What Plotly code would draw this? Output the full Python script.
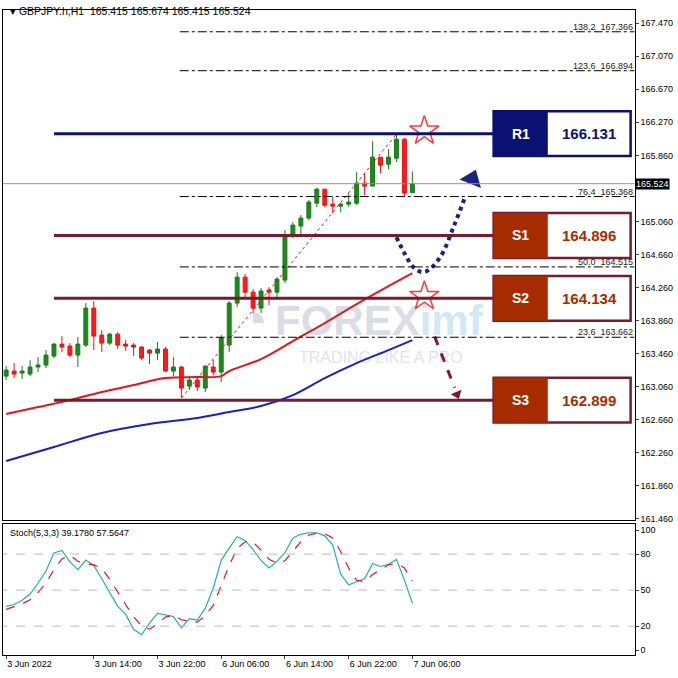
import plotly.graph_objects as go

# ---------------- data ----------------
bar_index = list(range(52))
opens  = [163.191,163.252,163.228,163.216,163.301,163.325,163.434,163.579,163.555,163.446,
          163.567,164.016,163.688,163.591,163.700,163.579,163.567,163.543,163.507,163.470,
          163.519,163.252,163.301,163.070,163.143,163.046,163.301,163.240,163.567,164.076,
          164.391,164.209,164.016,164.234,164.209,164.355,164.913,165.010,165.107,165.288,
          165.458,165.276,165.252,165.276,165.288,165.531,165.495,165.846,165.761,165.834,
          166.064,165.415]
highs  = [163.313,163.349,163.313,163.385,163.422,163.507,163.591,163.676,163.591,163.664,
          164.076,164.101,163.749,163.713,163.725,163.628,163.591,163.555,163.519,163.604,
          163.543,163.422,163.313,163.167,163.179,163.313,163.385,163.688,164.101,164.452,
          164.428,164.246,164.258,164.270,164.391,164.961,165.058,165.143,165.325,165.470,
          165.458,165.361,165.288,165.410,165.664,165.652,166.040,165.846,165.943,166.125,
          166.076,165.674]
lows   = [163.143,163.167,163.155,163.191,163.240,163.289,163.410,163.482,163.422,163.301,
          163.543,163.507,163.482,163.567,163.519,163.495,163.434,163.385,163.337,163.385,
          163.240,163.191,162.925,163.022,163.010,162.998,163.204,163.119,163.482,164.028,
          164.149,163.955,163.955,164.052,164.113,164.319,164.864,164.876,165.082,165.240,
          165.240,165.167,165.179,165.240,165.264,165.385,165.495,165.652,165.700,165.785,
          165.361,165.415]
closes = [163.264,163.216,163.252,163.301,163.325,163.446,163.579,163.543,163.446,163.579,
          164.016,163.676,163.591,163.700,163.567,163.555,163.543,163.410,163.470,163.519,
          163.252,163.301,163.046,163.143,163.058,163.313,163.240,163.652,164.076,164.391,
          164.209,164.016,164.222,164.209,164.367,164.876,165.022,165.107,165.301,165.458,
          165.264,165.252,165.276,165.301,165.531,165.495,165.846,165.749,165.846,166.064,
          165.410,165.524]

ma_red_x = [0,4,8,12,16,20,24,27,28,32,36,40,44,48,51]
ma_red_y = [162.731,162.816,162.900,162.998,163.082,163.167,163.179,163.191,163.252,
            163.398,163.616,163.834,164.064,164.282,164.440]
ma_blue_x = [0,6,12,18,24,28,32,36,40,44,48,51]
ma_blue_y = [162.161,162.331,162.501,162.610,162.683,162.755,162.828,162.961,163.167,
             163.349,163.507,163.628]

trend_x = [22, 49]
trend_y = [162.925, 166.125]

stoch_k = [36.5,38,41.6,46.7,55.7,65.9,81,83,73.5,67,75,70.5,59.5,47.5,36.5,30,17.4,12.8,
           22.5,30.6,29.4,28,18.6,26.3,25,35,51.8,74.8,85,94.5,91.4,83.7,74.8,68.4,74,81.2,
           93.4,96.5,97.8,97.8,95.2,87.6,63.3,54.4,57,59.5,72.2,69.7,71.5,75.6,58.2,39.1]
stoch_d = [34,36,38.5,42,48,56,67,76,79,74,72,71,68,59,48,38,28,20,17.5,22,27.5,29.3,25.3,
           24.3,23.3,28.8,37.3,53.9,70.5,84.8,90.3,89.9,83.3,75.6,72.4,74.5,82.9,90.4,95.9,
           97.4,96.9,93.5,82,68.4,58.2,57,63,67.1,71.1,72.3,68.4,57.6]

fib_levels = [167.366, 166.894, 165.368, 164.515, 163.662]
fib_names  = ["138.2", "123.6", "76.4", "50.0", "23.6"]

sr_names  = ["R1", "S1", "S2", "S3"]
sr_levels = [166.131, 164.896, 164.134, 162.899]

current_price = 165.524
price_ticks = [167.470,167.070,166.670,166.270,165.860,165.060,164.660,164.260,
               163.860,163.460,163.060,162.660,162.260,161.860,161.460]
time_tickvals = [0, 11, 19, 27, 35, 43, 51]
time_ticktext = ["3 Jun 2022","3 Jun 14:00","3 Jun 22:00","6 Jun 06:00",
                 "6 Jun 14:00","6 Jun 22:00","7 Jun 06:00"]

# ---------------- figure ----------------
fig = go.Figure()
FONT = "Liberation Sans"
NAVY = "#0a1172"
MAROON = "#7b1a2c"
BRICK = "#a62c00"

fig.add_trace(go.Candlestick(
    x=bar_index, open=opens, high=highs, low=lows, close=closes,
    increasing=dict(line=dict(color="#1a7a1a", width=1), fillcolor="#1a8c1a"),
    decreasing=dict(line=dict(color="#ee1111", width=1), fillcolor="#ff1a1a"),
    whiskerwidth=0, showlegend=False, xaxis="x", yaxis="y"))

fig.add_trace(go.Scatter(x=ma_red_x, y=ma_red_y, mode="lines", line=dict(color="#e8141c", width=2),
                         line_shape="spline", showlegend=False))
fig.add_trace(go.Scatter(x=ma_blue_x, y=ma_blue_y, mode="lines", line=dict(color="#1520c8", width=2),
                         line_shape="spline", showlegend=False))
fig.add_trace(go.Scatter(x=trend_x, y=trend_y, mode="lines",
                         line=dict(color="#e8141c", width=1, dash="dot"), showlegend=False))

shapes = []
annotations = []
XR = 78.9
for lv, nm in zip(fib_levels, fib_names):
    shapes.append(dict(type="line", x0=21.8, x1=XR, y0=lv, y1=lv, xref="x", yref="y",
                       line=dict(color="black", width=1, dash="dashdot")))
    annotations.append(dict(x=XR, y=lv, xref="x", yref="y", xanchor="right", yanchor="bottom",
                            text=f"{nm}  {lv:.3f}", showarrow=False, yshift=-2,
                            font=dict(family=FONT, size=9, color="#222")))
shapes.append(dict(type="line", x0=-1, x1=XR, y0=current_price, y1=current_price, xref="x", yref="y",
                   line=dict(color="#8a96a0", width=1)))
half = 0.272
for nm, lv in zip(sr_names, sr_levels):
    col = NAVY if nm == "R1" else MAROON
    fill = NAVY if nm == "R1" else BRICK
    shapes.append(dict(type="line", x0=6, x1=61.2, y0=lv, y1=lv, xref="x", yref="y",
                       line=dict(color=col, width=3)))
    shapes.append(dict(type="rect", x0=61.2, x1=78.4, y0=lv-half, y1=lv+half, xref="x", yref="y",
                       line=dict(color=col, width=2.5), fillcolor="white"))
    shapes.append(dict(type="rect", x0=61.2, x1=68.0, y0=lv-half, y1=lv+half, xref="x", yref="y",
                       line=dict(color=fill, width=0), fillcolor=fill))
    annotations.append(dict(x=64.6, y=lv, xref="x", yref="y", text=f"<b>{nm}</b>", showarrow=False,
                            font=dict(family=FONT, size=14, color="white")))
    annotations.append(dict(x=73.2, y=lv, xref="x", yref="y", text=f"<b>{lv:.3f}</b>", showarrow=False,
                            font=dict(family=FONT, size=15, color=col if nm == "R1" else BRICK)))

nav_x = [49, 50, 51.25, 52.5, 54.4, 56.25, 57.6]
nav_y = [164.876, 164.682, 164.50, 164.452, 164.62, 165.02, 165.36]
fig.add_trace(go.Scatter(x=nav_x, y=nav_y, mode="lines", line_shape="spline",
                         line=dict(color="#1a237e", width=4, dash="dot"), showlegend=False))
fig.add_trace(go.Scatter(x=[58.5], y=[165.58], mode="markers",
                         marker=dict(symbol="triangle-up", size=20, color="#1a237e", angle=22),
                         showlegend=False))
fig.add_trace(go.Scatter(x=[53.8, 56.3], y=[163.67, 163.05], mode="lines",
                         line=dict(color=MAROON, width=3, dash="dash"), showlegend=False))
fig.add_trace(go.Scatter(x=[56.6], y=[162.97], mode="markers",
                         marker=dict(symbol="triangle-down", size=10, color=MAROON, angle=-22),
                         showlegend=False))
fig.add_trace(go.Scatter(x=[52.5, 52.5], y=[166.165, 164.16], mode="markers",
                         marker=dict(symbol="star-open", size=22, color="#ff3838", line=dict(width=1.5)),
                         showlegend=False))

fig.add_trace(go.Scatter(x=bar_index, y=stoch_k, mode="lines", line=dict(color="#20b2aa", width=1.2),
                         xaxis="x2", yaxis="y2", showlegend=False))
fig.add_trace(go.Scatter(x=bar_index, y=stoch_d, mode="lines",
                         line=dict(color="#e8141c", width=1.2, dash="dash"),
                         xaxis="x2", yaxis="y2", showlegend=False))
for lv in [20, 50, 80]:
    shapes.append(dict(type="line", x0=-1, x1=XR, y0=lv, y1=lv, xref="x2", yref="y2",
                       line=dict(color="#bbbbbb", width=1, dash="dash")))

annotations.append(dict(x=0.937, y=current_price, xref="paper", yref="y", xanchor="left",
                        text="165.524", showarrow=False, bgcolor="black",
                        font=dict(family=FONT, size=9, color="white"), borderpad=0))
annotations.append(dict(x=0.012, y=0.995, xref="paper", yref="paper", xanchor="left", yanchor="top",
                        text="▾ GBPJPY.h,H1  165.415 165.674 165.415 165.524", showarrow=False,
                        font=dict(family=FONT, size=10.5, color="black")))
annotations.append(dict(x=0.012, y=0.224, xref="paper", yref="paper", xanchor="left", yanchor="top",
                        text="Stoch(5,3,3) 39.1780 57.5647", showarrow=False,
                        font=dict(family=FONT, size=9, color="black")))
annotations.append(dict(x=31, y=163.87, xref="x", yref="y", xanchor="center", text="<b>◔</b>",
                        showarrow=False, opacity=0.22, font=dict(family=FONT, size=50, color="#5a6590")))
annotations.append(dict(x=33.5, y=163.87, xref="x", yref="y", xanchor="left",
                        text="<b>FOREX<span style='color:#3a9ad9'>imf</span></b>", showarrow=False,
                        opacity=0.22, font=dict(family=FONT, size=42, color="#5a6590")))
annotations.append(dict(x=47, y=163.42, xref="x", yref="y", xanchor="center",
                        text="TRADING LIKE A PRO", showarrow=False,
                        opacity=0.18, font=dict(family=FONT, size=16, color="#5a6590")))

fig.update_layout(
    width=678, height=678, margin=dict(l=0, r=0, t=0, b=0, autoexpand=False),
    paper_bgcolor="white", plot_bgcolor="white",
    shapes=shapes, annotations=annotations, showlegend=False,
    font=dict(family=FONT, size=9, color="black"),
    xaxis=dict(domain=[0.0044, 0.936], range=[-0.4, XR], showgrid=False, showticklabels=False,
               rangeslider=dict(visible=False), showline=True, mirror=True, linecolor="black",
               zeroline=False, anchor="y"),
    yaxis=dict(domain=[0.233, 0.985], range=[161.446, 167.628], side="right", tickvals=price_ticks,
               ticktext=[f"{v:.3f}" for v in price_ticks], ticks="outside", ticklen=3,
               showgrid=False, showline=True, mirror=True, linecolor="black", zeroline=False,
               tickfont=dict(family=FONT, size=9), anchor="x", automargin=False),
    xaxis2=dict(domain=[0.0044, 0.936], range=[-0.4, XR], showgrid=False, tickvals=time_tickvals,
                ticktext=time_ticktext, ticks="outside", ticklen=3, showline=True, mirror=True,
                ticklabelposition="outside right",
                linecolor="black", zeroline=False, anchor="y2", tickfont=dict(family=FONT, size=9),
                automargin=False),
    yaxis2=dict(domain=[0.034, 0.227], range=[-4, 105], side="right", tickvals=[0, 20, 50, 80, 100],
                ticks="outside", ticklen=3, showgrid=False, showline=True, mirror=True,
                linecolor="black", zeroline=False, anchor="x2", tickfont=dict(family=FONT, size=9),
                automargin=False),
)
fig.write_html("out.html", config={"displayModeBar": False},
               post_script="document.body.style.margin='0';")
